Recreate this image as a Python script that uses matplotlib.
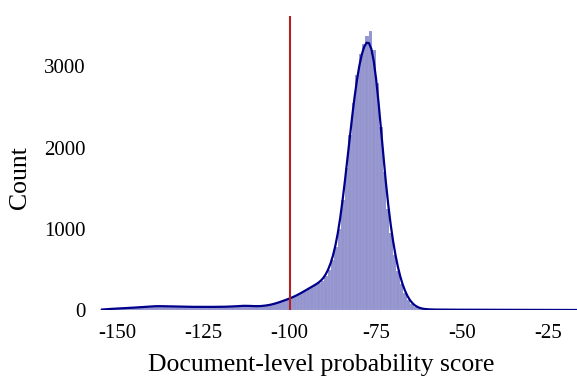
import numpy as np
import pandas as pd
import matplotlib
matplotlib.use("Agg")
import matplotlib.pyplot as plt
import seaborn as sns

# Histogram bins: width 1, left edges from -155 to -16
bin_start = -155
bin_width = 1
counts = [
    # -155 .. -140
    10, 12, 14, 16, 18, 20, 22, 25, 28, 30, 33, 36, 40, 43, 46, 48,
    # -139 .. -120
    50, 50, 48, 47, 46, 45, 44, 43, 42, 41, 40, 40, 40, 40, 40, 40, 40, 40, 40, 41,
    # -119 .. -105
    42, 43, 45, 48, 52, 55, 55, 52, 48, 46, 48, 52, 58, 65, 75,
    # -104 .. -92
    90, 105, 120, 135, 150, 170, 190, 215, 240, 265, 290, 315, 335,
    # -91 .. -60
    360, 420, 500, 620, 780, 1000, 1350, 1750, 2150, 2550, 2900, 3150, 3280, 3380,
    3430, 3200, 2800, 2250, 1700, 1250, 950, 680, 480, 320, 210, 130, 75, 40, 25, 15, 10, 8,
    # -59 .. -16
    7, 7, 6, 6, 6, 6, 5, 5, 5, 5, 5, 5, 5, 5, 4, 4, 4, 4, 4, 4, 4, 4,
    4, 4, 3, 3, 3, 3, 3, 3, 3, 3, 3, 3, 2, 2, 2, 2, 2, 2, 2, 2, 2, 2,
]
threshold = -100
x_ticks = [-150, -125, -100, -75, -50, -25]
y_ticks = [0, 1000, 2000, 3000]

edges = bin_start + bin_width * np.arange(len(counts) + 1)
centers = (edges[:-1] + edges[1:]) / 2
df = pd.DataFrame({"score": centers, "n": np.asarray(counts, dtype=float)})

fig = plt.figure(figsize=(5.77, 3.81), dpi=100)
ax = fig.add_axes([0.170, 0.186, 0.830, 0.772])

sns.histplot(data=df, x="score", weights="n", bins=list(edges), kde=True,
             color="darkblue", alpha=0.42, edgecolor="white", linewidth=0.05,
             kde_kws={"bw_adjust": 0.2},
             line_kws={"linewidth": 1.6}, ax=ax)
ax.axvline(threshold, color="firebrick", linewidth=1.5)

for s in ax.spines.values():
    s.set_visible(False)

fam = ["Liberation Serif", "DejaVu Serif"]
ax.set_xticks(x_ticks)
ax.set_yticks(y_ticks)
ax.set_xticklabels([str(v) for v in x_ticks], fontfamily=fam, fontsize=15)
ax.set_yticklabels([str(v) for v in y_ticks], fontfamily=fam, fontsize=15)
ax.tick_params(axis="y", length=0, pad=9)
ax.tick_params(axis="x", length=0, pad=10)
ax.set_xlim(-155.7, -16.5)
ax.set_ylim(0, 3620)
ax.set_xlabel("Document-level probability score", fontfamily=fam, fontsize=18.5)
ax.set_ylabel("Count", fontfamily=fam, fontsize=18.5)
ax.xaxis.set_label_coords(0.466, -0.15)
ax.yaxis.set_label_coords(-0.14, 0.452)

fig.savefig("out.png", dpi=100)
